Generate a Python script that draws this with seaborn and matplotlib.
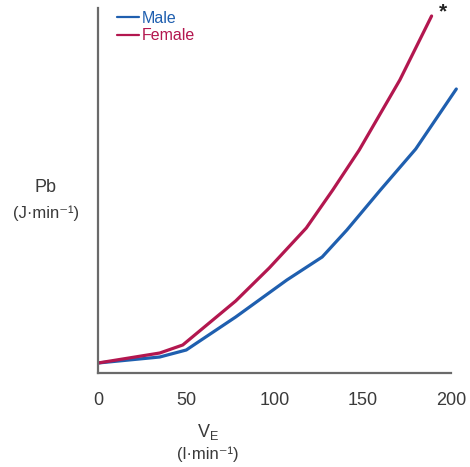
import matplotlib
matplotlib.use("Agg")
import matplotlib.pyplot as plt
import seaborn as sns
import pandas as pd

# Work of breathing (Pb) against minute ventilation (VE), arbitrary Pb units
male_ve = [0, 35, 50, 78, 107, 127, 141, 160, 180, 203]
male_pb = [10, 16, 23, 56, 93, 116, 143, 183, 224, 284]
female_ve = [0, 35, 48, 78, 97, 118, 133, 148, 171, 189]
female_pb = [10, 20, 28, 72, 105, 145, 183, 223, 293, 357]
x_ticks = [0, 50, 100, 150, 200]

sexes = ["Male", "Female"]
colors = {"Male": "#1f5faf", "Female": "#b3174f"}

df = pd.concat([
    pd.DataFrame({"VE": male_ve, "Pb": male_pb, "Sex": "Male"}),
    pd.DataFrame({"VE": female_ve, "Pb": female_pb, "Sex": "Female"}),
], ignore_index=True)

sns.set_style("white")
plt.rcParams["font.family"] = ["Liberation Sans", "DejaVu Sans"]

fig = plt.figure(figsize=(4.70, 4.67), dpi=100)
ax = fig.add_axes([98 / 470, 1 - 373 / 467, (461.6 - 98) / 470, (373 - 8) / 467])

sns.lineplot(data=df, x="VE", y="Pb", hue="Sex", hue_order=sexes,
             palette=colors, estimator=None, sort=False, lw=2.3, ax=ax,
             legend=False)

ax.set_xlim(0, 206)
ax.set_ylim(0, 365)
ax.set_xticks(x_ticks)
ax.set_xticklabels([str(t) for t in x_ticks])
ax.set_yticks([])

for side in ["top", "right"]:
    ax.spines[side].set_visible(False)
for side in ["left", "bottom"]:
    ax.spines[side].set_color("#6a6a6a")
    ax.spines[side].set_linewidth(1.6)
ax.spines["bottom"].set_bounds(0, 200)

ax.tick_params(axis="x", direction="out", length=7, width=1.6,
               color="#6a6a6a", labelsize=13, labelcolor="#3a3a3a", pad=7)

ax.set_xlabel("")
ax.set_ylabel("")

# Axis titles
fig.text(208 / 470, 1 - 432 / 467, r"V$_\mathregular{E}$", ha="center",
         va="center", fontsize=13, color="#3a3a3a")
fig.text(208 / 470, 1 - 454 / 467, "(l·min⁻¹)", ha="center", va="center",
         fontsize=12, color="#3a3a3a")
fig.text(46 / 470, 1 - 188 / 467, "Pb", ha="center", va="center",
         fontsize=13, color="#3a3a3a")
fig.text(46 / 470, 1 - 213 / 467, "(J·min⁻¹)", ha="center", va="center",
         fontsize=12, color="#3a3a3a")

# Legend
handles = [plt.Line2D([], [], color=colors[s], lw=1.6) for s in sexes]
leg = ax.legend(handles, sexes, loc="upper left", bbox_to_anchor=(0.035, 1.01),
                frameon=False, handlelength=1.4, handletextpad=0.15,
                labelspacing=0.15, fontsize=11.5, labelcolor="linecolor",
                borderaxespad=0)

# Significance marker
ax.text(195.5, 361, "*", ha="center", va="center", fontsize=15,
        fontweight="bold", color="#222222", clip_on=False)

fig.savefig("out.png", dpi=100)
